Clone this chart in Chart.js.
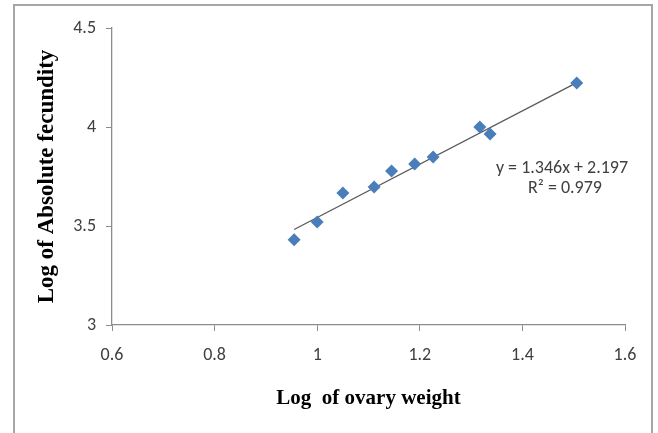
<!DOCTYPE html>
<html>
<head>
<meta charset="utf-8">
<script src="https://cdn.jsdelivr.net/npm/chart.js@4/dist/chart.umd.min.js"></script>
<style>
  html, body { margin: 0; padding: 0; background: #fff; }
  #wrap { width: 658px; height: 433px; position: relative; }
</style>
</head>
<body>
<div id="wrap"><canvas id="chart"></canvas></div>
<script>
// log ovary weight vs log absolute fecundity
const logOvaryWeight = [0.955, 1.0, 1.05, 1.111, 1.145, 1.19, 1.226, 1.317, 1.337, 1.506];
const logFecundity   = [3.43, 3.52, 3.667, 3.697, 3.778, 3.813, 3.848, 4.0, 3.965, 4.222];

// fitted line y = slope * x + intercept
const slope = 1.346;
const intercept = 2.197;
const rSquared = 0.979;

const xTicks = [0.6, 0.8, 1.0, 1.2, 1.4, 1.6];
const yTicks = [3, 3.5, 4, 4.5];

const points = logOvaryWeight.map((x, i) => ({ x: x, y: logFecundity[i] }));
const xMin = Math.min(...logOvaryWeight);
const xMax = Math.max(...logOvaryWeight);
const trend = [xMin, xMax].map(x => ({ x: x, y: slope * x + intercept }));

const labelFamily = '"Liberation Sans Narrow", Carlito, Roboto, sans-serif';
const tickFont = { family: labelFamily, size: 18 };
const serif = '"Liberation Serif", "Times New Roman", serif';
const axisGray = '#8c8c8c';

const framePlugin = {
  id: 'frame',
  beforeDraw(chart) {
    const ctx = chart.ctx;
    ctx.save();
    ctx.strokeStyle = '#a6a6a6';
    ctx.lineWidth = 2;
    ctx.beginPath();
    ctx.moveTo(14, 440);
    ctx.lineTo(14, 5);
    ctx.lineTo(652, 5);
    ctx.lineTo(652, 440);
    ctx.stroke();
    ctx.restore();
  }
};

const equationPlugin = {
  id: 'equation',
  afterDatasetsDraw(chart) {
    const ctx = chart.ctx;
    ctx.save();
    ctx.fillStyle = '#404040';
    ctx.font = '18px ' + labelFamily;
    ctx.textAlign = 'center';
    ctx.textBaseline = 'middle';
    ctx.fillText('y = ' + slope.toFixed(3) + 'x + ' + intercept.toFixed(3), 562, 168);
    ctx.fillText('R\u00b2 = ' + rSquared.toFixed(3), 565, 188);
    ctx.restore();
  }
};

new Chart(document.getElementById('chart'), {
  type: 'scatter',
  data: {
    datasets: [
      {
        label: 'data',
        data: points,
        pointStyle: 'rectRot',
        pointRadius: 6.5,
        pointHoverRadius: 6.5,
        backgroundColor: '#4a7ebb',
        borderColor: '#4a7ebb',
        borderWidth: 0
      },
      {
        label: 'trend',
        type: 'line',
        data: trend,
        borderColor: '#5a5a5a',
        borderWidth: 1.3,
        pointRadius: 0,
        fill: false
      }
    ]
  },
  options: {
    responsive: true,
    maintainAspectRatio: false,
    animation: false,
    layout: { padding: { left: 0, right: 33, top: 28, bottom: 0 } },
    plugins: {
      legend: { display: false },
      tooltip: { enabled: false }
    },
    scales: {
      x: {
        type: 'linear',
        min: 0.6,
        max: 1.6,
        afterBuildTicks: s => { s.ticks = xTicks.map(v => ({ value: v })); },
        afterFit: s => { s.height = 108; },
        border: { color: axisGray, width: 1.3 },
        grid: { drawOnChartArea: false, color: axisGray, tickLength: 6 },
        ticks: {
          color: '#404040',
          font: tickFont,
          padding: 14,
          callback: v => String(+v.toFixed(1))
        },
        title: {
          display: true,
          text: 'Log  of ovary weight',
          color: '#000',
          font: { family: serif, size: 21, weight: 'bold' },
          padding: { top: 0, bottom: 22 }
        }
      },
      y: {
        type: 'linear',
        min: 3,
        max: 4.5,
        afterBuildTicks: s => { s.ticks = yTicks.map(v => ({ value: v })); },
        afterFit: s => { s.width = 112; },
        border: { color: axisGray, width: 1.3 },
        grid: { drawOnChartArea: false, color: axisGray, tickLength: 6 },
        ticks: {
          color: '#404040',
          font: tickFont,
          padding: 10,
          callback: v => String(+v.toFixed(1))
        },
        title: {
          display: true,
          text: 'Log of Absolute fecundity',
          color: '#000',
          font: { family: serif, size: 23, weight: 'bold' },
          padding: { top: 33, bottom: 0 }
        }
      }
    }
  },
  plugins: [framePlugin, equationPlugin]
});
</script>
</body>
</html>
